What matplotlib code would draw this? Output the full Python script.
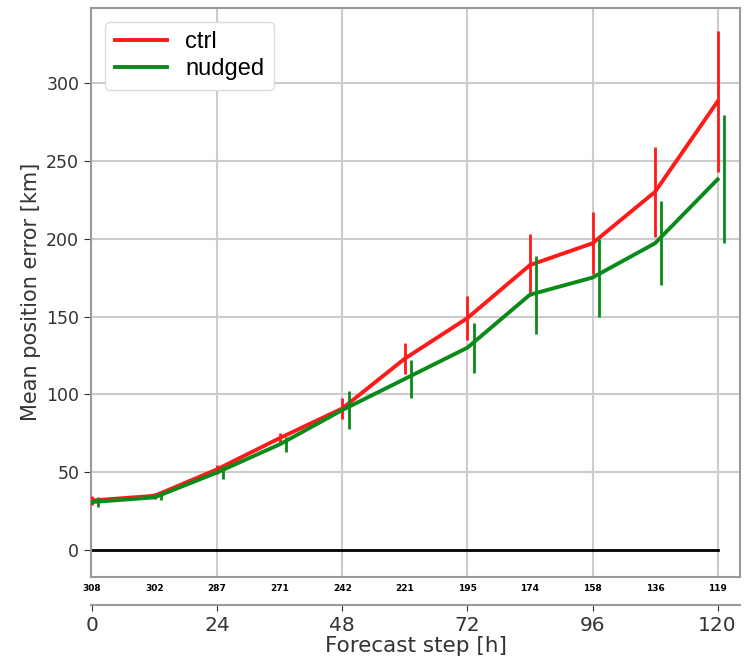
import numpy as np
import matplotlib.pyplot as plt

steps = np.arange(0, 121, 12)
counts = [308, 302, 287, 271, 242, 221, 195, 174, 158, 136, 119]

ctrl = [32, 35, 52, 72, 91, 123, 149, 183, 197, 230, 288]
ctrl_err = [3, 2, 3, 3, 7, 10, 14, 20, 20, 29, 45]
nudged = [31, 34, 50, 68, 90, 110, 130, 164, 175, 197, 238]
nudged_err = [3, 2, 4, 5, 12, 12, 16, 25, 25, 27, 41]

fig = plt.figure(figsize=(7.46, 6.57), dpi=100)
ax = fig.add_axes([0.122, 0.122, 0.870, 0.866])

red = "#ff1a1a"
green = "#0a8a1a"

ax.plot(steps, ctrl, color=red, lw=2.8, label="ctrl", zorder=3)
ax.errorbar(steps, ctrl, yerr=ctrl_err, fmt="none", ecolor=red, elinewidth=2, zorder=3)
ax.plot(steps, nudged, color=green, lw=2.8, label="nudged", zorder=3)
ax.errorbar(steps + 1.2, nudged, yerr=nudged_err, fmt="none", ecolor=green,
            elinewidth=2, zorder=3)

ax.plot([0, 120], [0, 0], color="black", lw=2, zorder=2)

ax.set_xlim(-0.2, 124.3)
ax.set_ylim(-17, 348)
ax.set_yticks(np.arange(0, 301, 50))
ax.tick_params(axis="y", labelsize=12.5, colors="#333333", length=5)
ax.set_ylabel("Mean position error [km]", fontsize=15, color="#333333")

# sample counts just under the plot
ax.set_xticks(steps)
ax.set_xticklabels([str(c) for c in counts], fontsize=6.5, fontweight="bold")
ax.tick_params(axis="x", length=0, pad=5)

ax.grid(False)
for v in range(24, 121, 24):
    ax.axvline(v, color="#cccccc", lw=1.5, zorder=0)
for v in range(50, 301, 50):
    ax.axhline(v, color="#cccccc", lw=1.5, zorder=0)

for s in ax.spines.values():
    s.set_color("#999999")
    s.set_linewidth(1.5)

sec = ax.secondary_xaxis(-0.05)
sec.set_xticks(np.arange(0, 121, 24))
sec.tick_params(labelsize=14.5, colors="#333333", length=4)
sec.spines["bottom"].set_color("#999999")
sec.spines["bottom"].set_linewidth(1.5)
sec.set_xlabel("Forecast step [h]", fontsize=15.5, color="#333333", labelpad=1)

ax.legend(loc="upper left", prop={"family": "Liberation Sans", "size": 17},
          handlelength=2.2, borderaxespad=0.6, fancybox=True, framealpha=1,
          edgecolor="#dddddd", labelspacing=0.2)

fig.savefig("out.png")
